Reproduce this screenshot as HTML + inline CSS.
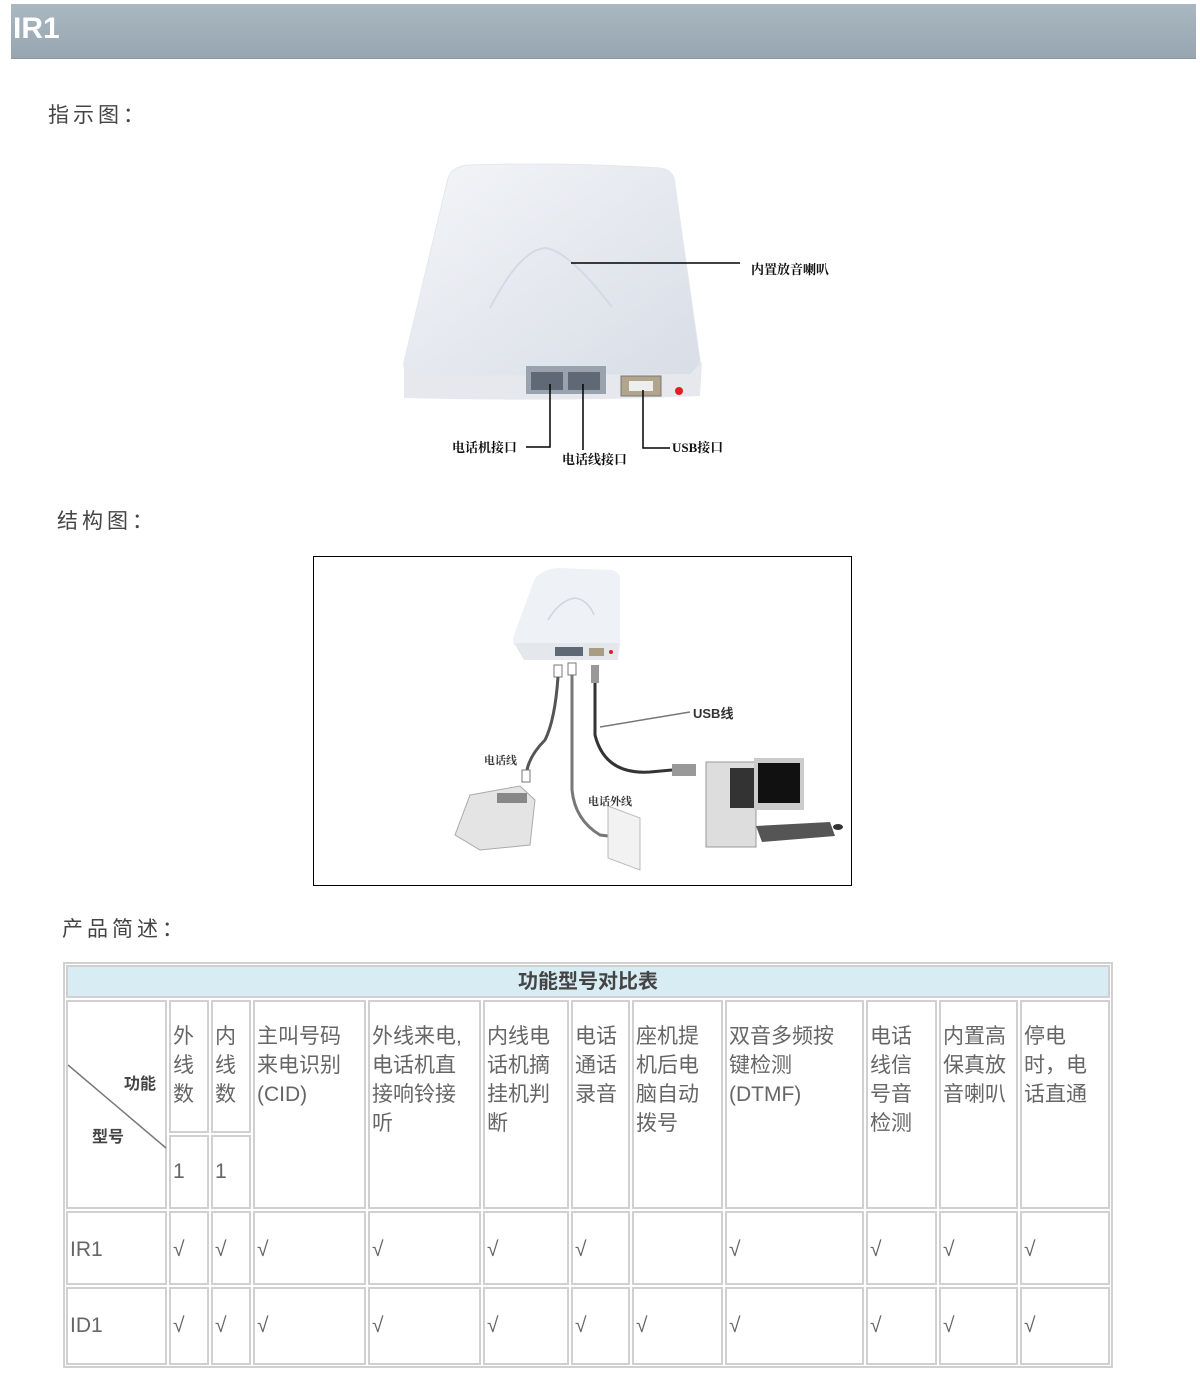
<!DOCTYPE html>
<html><head><meta charset="utf-8">
<style>
body{margin:0;width:1200px;height:1383px;background:#fff;position:relative;overflow:hidden;font-family:"Liberation Sans","Noto Sans CJK SC",sans-serif;}
.a{position:absolute;}
.hdr{left:11px;top:4px;width:1185px;height:54px;background:linear-gradient(#a9b7c0,#97a6b0);border-bottom:1px solid #8a98a2;}
.hdr span{position:absolute;left:2px;top:8px;font:bold 30px "Liberation Sans",sans-serif;color:#fff;}
.h2{font-size:21px;color:#444;letter-spacing:4px;}
.c{position:absolute;border:2px solid #d0d0d0;box-sizing:border-box;background:#fff;color:#666;font-size:21px;line-height:29px;padding:20px 0 0 2px;font-family:"Liberation Sans","Noto Sans CJK SC",sans-serif;}
.r{padding-top:22px;}
.lbl{font:bold 13px "Liberation Serif","Noto Serif CJK SC",serif;color:#111;position:absolute;}
</style></head><body>
<div class="a hdr"><span>IR1</span></div>
<div class="a h2" style="left:48px;top:99px;">指示图：</div>
<div class="a h2" style="left:57px;top:505px;">结构图：</div>
<div class="a h2" style="left:62px;top:913px;">产品简述：</div>

<svg class="a" style="left:0;top:0" width="1200" height="500">
<defs><linearGradient id="g1" x1="0" y1="0" x2="1" y2="1"><stop offset="0" stop-color="#f3f5f8"/><stop offset="1" stop-color="#d8dde6"/></linearGradient></defs>
<path d="M448,178 Q452,166 470,165 Q560,162 660,168 Q675,170 675,185 L700,360 Q702,372 690,375 L420,378 Q402,378 404,362 Z" fill="url(#g1)" stroke="#e4e7ec"/>
<path d="M404,362 L420,376 L690,374 L702,362 L700,396 Q560,402 404,398 Z" fill="#e6e8ed"/>
<path d="M490,308 Q520,250 545,248 Q568,250 612,307" fill="none" stroke="#d4d9e2" stroke-width="2"/>
<rect x="526" y="366" width="80" height="28" fill="#9aa3ad"/>
<rect x="531" y="372" width="32" height="18" fill="#5f6975"/><rect x="568" y="372" width="32" height="18" fill="#5f6975"/>
<rect x="621" y="376" width="40" height="20" fill="#b1a68c" stroke="#777"/><rect x="629" y="381" width="24" height="10" fill="#eee"/>
<circle cx="679" cy="391" r="4" fill="#d22"/>
<g stroke="#000" stroke-width="1.5" fill="none">
<path d="M571,263 H740"/>
<path d="M550,384 V447 H526"/>
<path d="M583,384 V450"/>
<path d="M643,390 V448 H670"/>
</g>
</svg>
<div class="lbl" style="left:452px;top:437px;">电话机接口</div>
<div class="lbl" style="left:751px;top:259px;">内置放音喇叭</div>
<div class="lbl" style="left:562px;top:449px;">电话线接口</div>
<div class="lbl" style="left:672px;top:437px;">USB接口</div>

<div class="a" style="left:313px;top:556px;width:537px;height:328px;border:1px solid #000;"></div>
<svg class="a" style="left:0;top:0" width="1200" height="900">
<path d="M535,578 Q545,568 560,568 L612,570 Q620,572 620,580 L620,645 L514,645 Q512,640 514,635 Z" fill="#eef1f6"/>
<path d="M514,643 L620,643 L618,660 L524,660 Z" fill="#e4e7ec"/>
<path d="M548,620 Q560,600 575,598 Q588,600 594,615" fill="none" stroke="#cfd5de" stroke-width="1.5"/>
<rect x="555" y="647" width="28" height="9" fill="#5f6975"/><rect x="589" y="648" width="15" height="8" fill="#a89c82"/>
<circle cx="611" cy="652" r="2" fill="#d22"/>
<rect x="554" y="665" width="8" height="12" fill="#fff" stroke="#777"/><rect x="568" y="663" width="8" height="12" fill="#fff" stroke="#777"/><rect x="591" y="665" width="8" height="18" fill="#999"/>
<g fill="none" stroke-width="3">
<path d="M558,677 Q555,720 545,740 Q530,755 527,770" stroke="#555"/>
<path d="M572,675 V790 Q575,820 600,835 L625,838" stroke="#777"/>
<path d="M595,683 V735 Q605,775 650,772 L672,770" stroke="#333"/>
</g>
<path d="M600,727 L690,712" stroke="#777" stroke-width="1.5"/>
<rect x="672" y="764" width="24" height="12" fill="#999"/>
<rect x="522" y="770" width="8" height="12" fill="#fff" stroke="#777"/>
<path d="M470,795 L520,786 L535,800 L530,845 L480,850 L455,835 Z" fill="#e4e4e4" stroke="#aaa"/>
<rect x="497" y="793" width="30" height="10" fill="#888"/>
<path d="M608,806 L640,818 L640,870 L608,858 Z" fill="#f2f2f2" stroke="#bbb"/>
<rect x="706" y="762" width="50" height="85" fill="#ddd" stroke="#999"/>
<rect x="730" y="768" width="24" height="40" fill="#333"/>
<rect x="754" y="758" width="50" height="52" fill="#ccc"/><rect x="758" y="763" width="42" height="40" fill="#111"/>
<path d="M756,826 L830,822 L835,836 L762,842 Z" fill="#555"/>
<ellipse cx="838" cy="827" rx="5" ry="3" fill="#333"/>
</svg>
<div class="lbl" style="left:693px;top:703px;font-family:'Liberation Sans','Noto Sans CJK SC',sans-serif;color:#333;">USB线</div>
<div class="lbl" style="left:484px;top:752px;font-size:11px;color:#333;">电话线</div>
<div class="lbl" style="left:588px;top:793px;font-size:11px;color:#333;">电话外线</div>

<div class="a" style="left:63px;top:962px;width:1050px;height:406px;border:2px solid #d0d0d0;box-sizing:border-box;"></div>
<div class="c" style="left:66px;top:965px;width:1044px;height:33px;background:#d8ecf4;padding:0;text-align:center;font-weight:bold;color:#444;font-size:20px;line-height:30px;">功能型号对比表</div>

<div class="c" style="left:66px;top:1000px;width:101px;height:209px;padding:0;">
<svg width="100" height="205" style="position:absolute;left:0;top:0"><line x1="0" y1="63" x2="98" y2="146" stroke="#777" stroke-width="1.5"/></svg>
<span style="position:absolute;left:56px;top:68px;font-size:16px;font-weight:bold;color:#444;">功能</span>
<span style="position:absolute;left:24px;top:121px;font-size:16px;font-weight:bold;color:#444;">型号</span>
</div>
<div class="c" style="left:169px;top:1000px;width:40px;height:133px;">外<br>线<br>数</div>
<div class="c" style="left:211px;top:1000px;width:40px;height:133px;">内<br>线<br>数</div>
<div class="c" style="left:169px;top:1135px;width:40px;height:74px;">1</div>
<div class="c" style="left:211px;top:1135px;width:40px;height:74px;">1</div>
<div class="c" style="left:253px;top:1000px;width:113px;height:209px;">主叫号码<br>来电识别<br>(CID)</div>
<div class="c" style="left:368px;top:1000px;width:113px;height:209px;">外线来电,<br>电话机直<br>接响铃接<br>听</div>
<div class="c" style="left:483px;top:1000px;width:86px;height:209px;">内线电<br>话机摘<br>挂机判<br>断</div>
<div class="c" style="left:571px;top:1000px;width:59px;height:209px;">电话<br>通话<br>录音</div>
<div class="c" style="left:632px;top:1000px;width:91px;height:209px;">座机提<br>机后电<br>脑自动<br>拨号</div>
<div class="c" style="left:725px;top:1000px;width:139px;height:209px;">双音多频按<br>键检测<br>(DTMF)</div>
<div class="c" style="left:866px;top:1000px;width:71px;height:209px;">电话<br>线信<br>号音<br>检测</div>
<div class="c" style="left:939px;top:1000px;width:79px;height:209px;">内置高<br>保真放<br>音喇叭</div>
<div class="c" style="left:1020px;top:1000px;width:90px;height:209px;">停电<br>时，电<br>话直通</div>

<div class="c r" style="left:66px;top:1211px;width:101px;height:74px;">IR1</div>
<div class="c r" style="left:169px;top:1211px;width:40px;height:74px;">√</div>
<div class="c r" style="left:211px;top:1211px;width:40px;height:74px;">√</div>
<div class="c r" style="left:253px;top:1211px;width:113px;height:74px;">√</div>
<div class="c r" style="left:368px;top:1211px;width:113px;height:74px;">√</div>
<div class="c r" style="left:483px;top:1211px;width:86px;height:74px;">√</div>
<div class="c r" style="left:571px;top:1211px;width:59px;height:74px;">√</div>
<div class="c r" style="left:632px;top:1211px;width:91px;height:74px;"></div>
<div class="c r" style="left:725px;top:1211px;width:139px;height:74px;">√</div>
<div class="c r" style="left:866px;top:1211px;width:71px;height:74px;">√</div>
<div class="c r" style="left:939px;top:1211px;width:79px;height:74px;">√</div>
<div class="c r" style="left:1020px;top:1211px;width:90px;height:74px;">√</div>

<div class="c r" style="left:66px;top:1287px;width:101px;height:78px;">ID1</div>
<div class="c r" style="left:169px;top:1287px;width:40px;height:78px;">√</div>
<div class="c r" style="left:211px;top:1287px;width:40px;height:78px;">√</div>
<div class="c r" style="left:253px;top:1287px;width:113px;height:78px;">√</div>
<div class="c r" style="left:368px;top:1287px;width:113px;height:78px;">√</div>
<div class="c r" style="left:483px;top:1287px;width:86px;height:78px;">√</div>
<div class="c r" style="left:571px;top:1287px;width:59px;height:78px;">√</div>
<div class="c r" style="left:632px;top:1287px;width:91px;height:78px;">√</div>
<div class="c r" style="left:725px;top:1287px;width:139px;height:78px;">√</div>
<div class="c r" style="left:866px;top:1287px;width:71px;height:78px;">√</div>
<div class="c r" style="left:939px;top:1287px;width:79px;height:78px;">√</div>
<div class="c r" style="left:1020px;top:1287px;width:90px;height:78px;">√</div>
</body></html>
